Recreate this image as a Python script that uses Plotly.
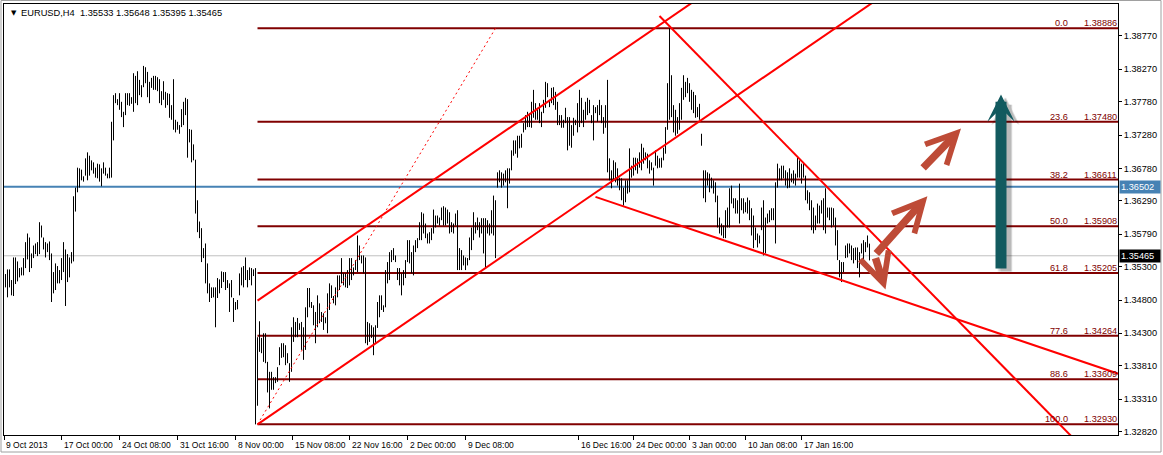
import plotly.graph_objects as go

# ---------------- data ----------------
highs = [
 1.3519,1.3526,1.3526,1.3510,1.3544,1.3544,1.3538,1.3528,1.3529,1.3543,
 1.3567,1.3580,1.3574,1.3550,1.3562,1.3565,1.3567,1.3597,1.3592,1.3574,
 1.3567,1.3565,1.3568,1.3550,1.3522,1.3535,1.3531,1.3525,1.3543,1.3567,
 1.3556,1.3549,1.3544,1.3552,1.3636,1.3649,1.3679,1.3678,1.3676,1.3666,
 1.3693,1.3702,1.3697,1.3690,1.3687,1.3679,1.3685,1.3684,1.3678,1.3687,
 1.3679,1.3670,1.3679,1.3748,1.3788,1.3791,1.3782,1.3791,1.3778,1.3763,
 1.3791,1.3791,1.3791,1.3785,1.3821,1.3817,1.3824,1.3811,1.3803,1.3832,
 1.3830,1.3823,1.3808,1.3814,1.3817,1.3817,1.3815,1.3812,1.3794,1.3809,
 1.3793,1.3791,1.3790,1.3773,1.3812,1.3751,1.3748,1.3743,1.3767,1.3778,
 1.3784,1.3782,1.3737,1.3736,1.3714,1.3691,1.3630,1.3598,1.3588,1.3558,
 1.3565,1.3535,1.3505,1.3499,1.3499,1.3499,1.3513,1.3511,1.3523,1.3522,
 1.3522,1.3510,1.3505,1.3510,1.3483,1.3477,1.3480,1.3520,1.3529,1.3531,
 1.3544,1.3525,1.3529,1.3528,1.3526,1.3528,
 1.3424,1.3448,1.3423,1.3430,1.3430,1.3387,1.3372,1.3372,1.3364,1.3364,
 1.3379,1.3409,1.3415,1.3415,1.3412,1.3400,1.3385,1.3439,1.3454,1.3447,
 1.3453,1.3445,1.3447,1.3439,1.3469,1.3498,1.3498,1.3477,1.3472,1.3462,
 1.3487,1.3475,1.3462,1.3460,1.3454,1.3490,1.3505,1.3502,1.3486,1.3499,
 1.3517,1.3517,1.3543,1.3520,1.3520,1.3525,1.3543,1.3543,1.3529,1.3540,
 1.3577,1.3562,1.3547,1.3547,1.3544,1.3447,1.3445,1.3442,1.3439,1.3442,
 1.3477,1.3487,1.3487,1.3472,1.3525,1.3537,1.3552,1.3555,1.3558,1.3547,
 1.3528,1.3528,1.3520,1.3525,1.3540,1.3570,1.3570,1.3552,1.3562,1.3570,
 1.3573,1.3597,1.3612,1.3610,1.3595,1.3580,1.3582,1.3588,1.3616,1.3607,
 1.3607,1.3604,1.3619,1.3621,1.3619,1.3616,1.3612,1.3597,1.3595,1.3610,
 1.3615,1.3558,1.3555,1.3547,1.3544,1.3543,1.3574,
 1.3589,1.3612,1.3597,1.3604,1.3597,1.3603,1.3603,1.3603,1.3600,1.3595,
 1.3615,1.3637,1.3630,1.3672,1.3675,1.3672,1.3670,1.3675,1.3678,1.3678,
 1.3705,1.3720,1.3720,1.3727,1.3727,1.3730,1.3746,1.3758,1.3763,1.3761,
 1.3778,1.3796,1.3776,1.3769,1.3776,1.3763,1.3781,1.3808,1.3806,1.3781,
 1.3799,1.3800,1.3793,1.3778,1.3758,1.3758,1.3751,1.3769,1.3755,1.3755,
 1.3743,1.3754,1.3751,1.3776,1.3796,1.3784,1.3766,1.3778,1.3784,1.3781,
 1.3758,1.3773,1.3770,1.3773,1.3781,1.3773,1.3755,1.3773,1.3811,1.3693,
 1.3675,1.3690,1.3687,1.3678,1.3664,1.3663,1.3649,1.3660,1.3660,1.3708,
 1.3682,1.3694,1.3694,1.3693,1.3702,1.3715,1.3709,1.3702,1.3700,1.3690,
 1.3687,1.3679,1.3705,1.3697,1.3693,
 1.3694,1.3709,1.3740,1.3806,1.38886,1.3818,1.3773,1.3766,1.3755,1.3776,
 1.3799,1.3818,1.3808,1.3814,1.3806,1.3796,1.3793,1.3788,1.3770,1.3775,
 1.3730,1.3675,1.3675,1.3672,1.3670,1.3664,1.3660,1.3657,1.3637,1.3604,
 1.3595,1.3592,1.3615,1.3619,1.3648,1.3652,1.3633,1.3633,1.3630,1.3655,
 1.3633,1.3633,1.3627,1.3634,1.3630,1.3618,1.3607,1.3589,1.3580,1.3577,
 1.3619,1.3630,1.3604,1.3610,1.3615,1.3618,1.3618,1.3657,1.3685,1.3678,
 1.3682,1.3682,1.3675,1.3672,1.3678,1.3670,1.3675,1.3670,1.3694,1.3690,
 1.3685,1.3685,1.3667,1.3645,1.3642,1.3630,1.3619,1.3607,1.3625,1.3622,
 1.3630,1.3633,1.3648,1.3619,1.3619,1.3619,1.3618,1.3604,1.3585,1.3540,
 1.3537,1.3537,1.3562,1.3565,1.3565,1.3562,1.3558,1.3559,1.3559,1.3552,
 1.3565,1.3570,1.3567,1.3577,1.35648,
]
lows = [
 1.3499,1.3484,1.3499,1.3487,1.3486,1.3504,1.3508,1.3514,1.3517,1.3517,
 1.3528,1.3541,1.3522,1.3528,1.3543,1.3549,1.3546,1.3549,1.3574,1.3556,
 1.3544,1.3552,1.3540,1.3477,1.3490,1.3495,1.3505,1.3505,1.3510,1.3522,
 1.3471,1.3507,1.3514,1.3535,1.3538,1.3613,1.3642,1.3649,1.3660,1.3658,
 1.3667,1.3660,1.3667,1.3675,1.3670,1.3664,1.3663,1.3658,1.3651,1.3670,
 1.3667,1.3663,1.3663,1.3664,1.3720,1.3776,1.3773,1.3766,1.3755,1.3740,
 1.3758,1.3773,1.3772,1.3775,1.3763,1.3776,1.3773,1.3788,1.3785,1.3800,
 1.3806,1.3785,1.3776,1.3799,1.3796,1.3796,1.3794,1.3776,1.3773,1.3781,
 1.3769,1.3773,1.3754,1.3751,1.3736,1.3732,1.3736,1.3730,1.3740,1.3743,
 1.3758,1.3694,1.3717,1.3687,1.3690,1.3610,1.3582,1.3573,1.3537,1.3543,
 1.3505,1.3490,1.3477,1.3483,1.3484,1.3439,1.3483,1.3490,1.3498,1.3507,
 1.3495,1.3498,1.3462,1.3484,1.3447,1.3465,1.3466,1.3487,1.3502,1.3499,
 1.3510,1.3499,1.3510,1.3502,1.3516,1.3293,
 1.3321,1.3402,1.3400,1.3387,1.3385,1.3341,1.3317,1.3345,1.3345,1.3355,
 1.3357,1.3382,1.3393,1.3394,1.3382,1.3385,1.3357,1.3372,1.3417,1.3424,
 1.3424,1.3435,1.3405,1.3390,1.3405,1.3454,1.3469,1.3468,1.3442,1.3415,
 1.3439,1.3445,1.3447,1.3435,1.3445,1.3430,1.3465,1.3483,1.3475,1.3472,
 1.3484,1.3495,1.3505,1.3502,1.3499,1.3498,1.3502,1.3510,1.3517,1.3525,
 1.3522,1.3540,1.3535,1.3520,1.3415,1.3412,1.3417,1.3423,1.3397,1.3415,
 1.3438,1.3454,1.3465,1.3462,1.3469,1.3505,1.3510,1.3537,1.3540,1.3537,
 1.3510,1.3502,1.3487,1.3502,1.3513,1.3537,1.3535,1.3520,1.3517,1.3552,
 1.3558,1.3570,1.3570,1.3580,1.3573,1.3565,1.3565,1.3570,1.3580,1.3589,
 1.3595,1.3592,1.3600,1.3592,1.3592,1.3595,1.3580,1.3582,1.3580,1.3592,
 1.3525,1.3525,1.3525,1.3532,1.3525,1.3532,1.3540,
 1.3555,1.3570,1.3580,1.3585,1.3574,1.3580,1.3550,1.3529,1.3580,1.3577,
 1.3580,1.3577,1.3543,1.3649,1.3657,1.3649,1.3652,1.3657,1.3618,1.3655,
 1.3675,1.3697,1.3700,1.3694,1.3708,1.3709,1.3732,1.3736,1.3740,1.3740,
 1.3739,1.3754,1.3751,1.3751,1.3746,1.3740,1.3761,1.3769,1.3785,1.3770,
 1.3776,1.3773,1.3766,1.3743,1.3743,1.3739,1.3739,1.3746,1.3705,1.3712,
 1.3709,1.3727,1.3743,1.3732,1.3740,1.3746,1.3740,1.3751,1.3758,1.3761,
 1.3746,1.3720,1.3761,1.3748,1.3758,1.3746,1.3730,1.3739,1.3672,1.3660,
 1.3648,1.3660,1.3657,1.3652,1.3645,1.3630,1.3622,1.3627,1.3640,1.3642,
 1.3664,1.3667,1.3675,1.3670,1.3679,1.3675,1.3685,1.3690,1.3678,1.3670,
 1.3675,1.3652,1.3682,1.3678,1.3679,
 1.3679,1.3690,1.3700,1.3736,1.3751,1.3755,1.3732,1.3727,1.3730,1.3736,
 1.3751,1.3781,1.3785,1.3791,1.3778,1.3766,1.3761,1.3754,1.3755,1.3751,
 1.3712,1.3633,1.3627,1.3652,1.3642,1.3648,1.3640,1.3627,1.3589,1.3580,
 1.3577,1.3573,1.3573,1.3589,1.3589,1.3625,1.3618,1.3610,1.3610,1.3595,
 1.3615,1.3610,1.3612,1.3610,1.3600,1.3577,1.3558,1.3570,1.3559,1.3565,
 1.3585,1.3547,1.3550,1.3595,1.3597,1.3600,1.3600,1.3565,1.3649,1.3660,
 1.3660,1.3663,1.3652,1.3648,1.3649,1.3657,1.3655,1.3652,1.3664,1.3664,
 1.3655,1.3664,1.3630,1.3625,1.3615,1.3585,1.3580,1.3585,1.3595,1.3595,
 1.3610,1.3585,1.3580,1.3604,1.3600,1.3589,1.3592,1.3562,1.3540,1.3514,
 1.3507,1.3522,1.3543,1.3544,1.3550,1.3540,1.3535,1.3540,1.3528,1.3514,
 1.3550,1.3540,1.3552,1.3559,1.35395,
]
bar_index = list(range(len(highs)))

symbol = "EURUSD,H4"
last_ohlc = [1.35533, 1.35648, 1.35395, 1.35465]
bid_price = 1.35465
blue_level = 1.36502

date_tick_index = [-0.75, 28, 57, 86, 115, 143.5, 172, 201, 230, 286.5, 314, 342, 370, 398]
date_tick_labels = ["9 Oct 2013", "17 Oct 00:00", "24 Oct 08:00", "31 Oct 16:00",
                    "8 Nov 00:00", "15 Nov 08:00", "22 Nov 16:00", "2 Dec 00:00",
                    "9 Dec 08:00", "16 Dec 16:00", "24 Dec 00:00", "3 Jan 00:00",
                    "10 Jan 08:00", "17 Jan 16:00"]
price_ticks = [1.38770, 1.38270, 1.37780, 1.37280, 1.36780, 1.36290, 1.35790,
               1.35300, 1.34800, 1.34300, 1.33810, 1.33310, 1.32820]

fib_levels = [0.0, 23.6, 38.2, 50.0, 61.8, 77.6, 88.6, 100.0]
fib_prices = [1.38886, 1.37480, 1.36611, 1.35908, 1.35205, 1.34264, 1.33609, 1.32930]
fib_start_index = 126

# trend objects: anchor points (bar index, price)
channel_lower = [(126, 1.3293), (432.5, 1.3925)]
channel_upper_start = (126, 1.3479)
desc_upper = [(327, 1.3907), (532, 1.3278)]
desc_lower = [(295, 1.3635), (556.5, 1.3369)]
fib_diagonal = [(126, 1.3293), (245, 1.38886)]

# arrows: (tail index, tail price) -> (head index, head price)
red_arrow_tails = [(458.1, 1.36765), (434.75, 1.35477), (434.75, 1.35451)]
red_arrow_heads = [(477.75, 1.37377), (460.95, 1.36359), (440.0, 1.34959)]
teal_arrow_tail = (497.75, 1.35251)
teal_arrow_head = (497.75, 1.3789)

X_RANGE = [-0.75, 556.25]
Y_RANGE = [1.32770, 1.39251]
W, H = 1163, 455
ML, MR, MT, MB = 4, 45, 4, 20

FONT = "Liberation Sans, Arial, sans-serif"
FIB_COLOR = "#800000"
RED = "#FF0000"
BROWN = "#BE4B37"
TEAL = "#125A5F"


def ray(p1, p2, i_end=620):
    (i1, v1), (i2, v2) = p1, p2
    s = (v2 - v1) / (i2 - i1)
    return [i1, i_end], [v1, v1 + s * (i_end - i1)]


fig = go.Figure()

# horizontal lines (full width)
fig.add_trace(go.Scatter(x=[X_RANGE[0] - 5, X_RANGE[1] + 5], y=[bid_price, bid_price], mode="lines",
                         line=dict(color="#C0C0C0", width=1), hoverinfo="skip"))
fig.add_trace(go.Scatter(x=[X_RANGE[0] - 5, X_RANGE[1] + 5], y=[blue_level, blue_level], mode="lines",
                         line=dict(color="#4682B4", width=2), hoverinfo="skip"))

# fibonacci levels
for p in fib_prices:
    fig.add_trace(go.Scatter(x=[fib_start_index, X_RANGE[1] + 5], y=[p, p], mode="lines",
                             line=dict(color=FIB_COLOR, width=2), hoverinfo="skip"))

# price bars (high-low)
bx, by = [], []
for i, h, l in zip(bar_index, highs, lows):
    bx += [i, i, None]
    by += [l, h, None]
fig.add_trace(go.Scatter(x=bx, y=by, mode="lines", line=dict(color="black", width=1),
                         hoverinfo="skip", connectgaps=False))

# fib diagonal (dotted)
fx = [fib_diagonal[0][0], fib_diagonal[1][0]]
fy = [fib_diagonal[0][1], fib_diagonal[1][1]]
fig.add_trace(go.Scatter(x=fx, y=fy, mode="lines", line=dict(color=RED, width=1, dash="2px,3px"),
                         hoverinfo="skip"))

# channel
lx, ly = ray(channel_lower[0], channel_lower[1])
fig.add_trace(go.Scatter(x=lx, y=ly, mode="lines", line=dict(color=RED, width=2), hoverinfo="skip"))
slope = (channel_lower[1][1] - channel_lower[0][1]) / (channel_lower[1][0] - channel_lower[0][0])
up2 = (channel_upper_start[0] + 100, channel_upper_start[1] + slope * 100)
ux, uy = ray(channel_upper_start, up2)
fig.add_trace(go.Scatter(x=ux, y=uy, mode="lines", line=dict(color=RED, width=2), hoverinfo="skip"))
# descending lines
dx, dy = ray(desc_upper[0], desc_upper[1])
fig.add_trace(go.Scatter(x=dx, y=dy, mode="lines", line=dict(color=RED, width=2), hoverinfo="skip"))
ex, ey = ray(desc_lower[0], desc_lower[1])
fig.add_trace(go.Scatter(x=ex, y=ey, mode="lines", line=dict(color=RED, width=2), hoverinfo="skip"))

annotations = []
PW = W - ML - MR
PH = H - MT - MB

# fib labels
for lvl, p in zip(fib_levels, fib_prices):
    annotations.append(dict(x=(1069 - ML) / PW, y=p, xref="paper", yref="y",
                            xanchor="right", yanchor="bottom", text=f"{lvl:.1f}", showarrow=False,
                            font=dict(family=FONT, size=9.2, color=FIB_COLOR), borderpad=0, yshift=-1))
    annotations.append(dict(x=(1117.5 - ML) / PW, y=p, xref="paper", yref="y",
                            xanchor="right", yanchor="bottom", text=f"{p:.5f}", showarrow=False,
                            font=dict(family=FONT, size=9.2, color=FIB_COLOR), borderpad=0, yshift=-1))

# date labels
for ti, tl in zip(date_tick_index, date_tick_labels):
    annotations.append(dict(x=ti, y=0, xref="x", yref="paper", xanchor="left", yanchor="top",
                            text=tl, showarrow=False, xshift=0, yshift=-3,
                            font=dict(family=FONT, size=8.5, color="black")))

# price boxes on the axis
annotations.append(dict(x=1, y=blue_level, xref="paper", yref="y", xanchor="left", yanchor="middle",
                        text=f"{blue_level:.5f}", showarrow=False, bgcolor="#4682B4", width=38,
                        align="left", borderpad=1, xshift=1,
                        font=dict(family=FONT, size=9.2, color="white")))
annotations.append(dict(x=1, y=bid_price, xref="paper", yref="y", xanchor="left", yanchor="middle",
                        text=f"{bid_price:.5f}", showarrow=False, bgcolor="black", width=38,
                        align="left", borderpad=1, xshift=1,
                        font=dict(family=FONT, size=9.2, color="white")))

# title
annotations.append(dict(x=(9 - ML) / PW, y=(H - MB - 13) / PH, xref="paper", yref="paper",
                        xanchor="left", yanchor="middle", text="▼", showarrow=False,
                        font=dict(family="DejaVu Sans", size=7, color="black")))
annotations.append(dict(x=(19 - ML) / PW, y=(H - MB - 13) / PH, xref="paper", yref="paper",
                        xanchor="left", yanchor="middle",
                        text=symbol + "&nbsp;&nbsp;" + " ".join(f"{v:.5f}" for v in last_ohlc),
                        showarrow=False, font=dict(family=FONT, size=9.3, color="black")))

# teal arrow with soft shadow
yr_per_px = (Y_RANGE[1] - Y_RANGE[0]) / PH
TEAL_W = 11
TEAL_SCALE = 4.6
for col, w, dxp in [("rgba(0,0,0,0.06)", 15, 4), ("rgba(0,0,0,0.10)", 13, 4), ("rgba(0,0,0,0.12)", 11, 5)]:
    annotations.append(dict(x=teal_arrow_head[0] + dxp / 2, y=teal_arrow_head[1] - 3 * yr_per_px,
                            ax=teal_arrow_tail[0] + dxp / 2, ay=teal_arrow_tail[1] - 3 * yr_per_px,
                            xref="x", yref="y", axref="x", ayref="y", text="", showarrow=True,
                            arrowhead=3, arrowsize=max(0.3, TEAL_SCALE / w), arrowwidth=w, arrowcolor=col))
annotations.append(dict(x=teal_arrow_head[0], y=teal_arrow_head[1], ax=teal_arrow_tail[0], ay=teal_arrow_tail[1],
                        xref="x", yref="y", axref="x", ayref="y", text="", showarrow=True,
                        arrowhead=3, arrowsize=TEAL_SCALE / TEAL_W, arrowwidth=TEAL_W, arrowcolor=TEAL))

# red-brown arrows
for (ti, tp), (hi, hp) in zip(red_arrow_tails, red_arrow_heads):
    annotations.append(dict(x=hi, y=hp, ax=ti, ay=tp, xref="x", yref="y", axref="x", ayref="y",
                            text="", showarrow=True, arrowhead=5, arrowsize=0.78, arrowwidth=7.5,
                            arrowcolor=BROWN))

fig.update_layout(
    width=W, height=H,
    margin=dict(l=ML, r=MR, t=MT, b=MB, pad=0),
    paper_bgcolor="white", plot_bgcolor="white",
    showlegend=False,
    annotations=annotations,
    xaxis=dict(range=X_RANGE, showgrid=False, zeroline=False, showline=True, mirror=True,
               linecolor="black", linewidth=1, tickvals=date_tick_index, ticks="outside",
               ticklen=4, tickcolor="black", showticklabels=False, fixedrange=True),
    yaxis=dict(range=Y_RANGE, side="right", showgrid=False, zeroline=False, showline=True, mirror=True,
               linecolor="black", linewidth=1, tickvals=price_ticks,
               ticktext=[f"{v:.5f}" for v in price_ticks], ticks="outside", ticklen=3,
               tickcolor="black", tickfont=dict(family=FONT, size=9.2, color="black"), fixedrange=True),
    shapes=[dict(type="rect", xref="paper", yref="paper",
                 x0=(1 - ML) / PW, x1=(1161 - ML) / PW,
                 y0=(H - MB - 452) / PH, y1=(H - MB - 0.5) / PH,
                 line=dict(color="#A0A0A0", width=1), fillcolor="rgba(0,0,0,0)", layer="below")],
)

fig.write_html("out.html", config={"displayModeBar": False},
               post_script="document.body.style.margin='0px';document.body.style.overflow='hidden';")
